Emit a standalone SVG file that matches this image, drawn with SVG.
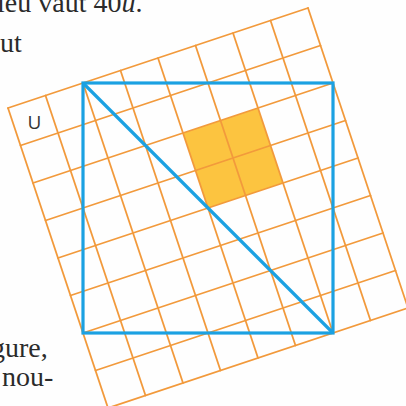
<svg xmlns="http://www.w3.org/2000/svg" width="406" height="406" viewBox="0 0 406 406">
<style>
.grid line{stroke:#F29A3C;stroke-width:1.8;stroke-linecap:round}
.blue{stroke:#1BA1E2;stroke-width:3.2;fill:none;stroke-linejoin:miter}
.txt{font-family:"Liberation Serif","DejaVu Serif",serif;font-size:28px;fill:#2b2b2b}
</style>
<rect width="406" height="406" fill="#FEFEFE"/>
<g id="text">
<text class="txt" x="-3" y="12">ieu vaut 40<tspan font-style="italic">u</tspan>.</text>
<text class="txt" x="0" y="52">ut</text>
<text class="txt" x="-9" y="357">gure,</text>
<text class="txt" x="2" y="386">nou-</text>
</g>
<g id="shaded">
<polygon points="183,133 258,108 283,183 208,208" fill="#FCC440"/>
</g>
<g id="grid" class="grid">
<line x1="8" y1="108" x2="308" y2="8"/>
<line x1="20.5" y1="145.5" x2="320.5" y2="45.5"/>
<line x1="33" y1="183" x2="333" y2="83"/>
<line x1="45.5" y1="220.5" x2="345.5" y2="120.5"/>
<line x1="58" y1="258" x2="358" y2="158"/>
<line x1="70.5" y1="295.5" x2="370.5" y2="195.5"/>
<line x1="83" y1="333" x2="383" y2="233"/>
<line x1="95.5" y1="370.5" x2="395.5" y2="270.5"/>
<line x1="108" y1="408" x2="408" y2="308"/>
<line x1="8" y1="108" x2="108" y2="408"/>
<line x1="45.5" y1="95.5" x2="145.5" y2="395.5"/>
<line x1="83" y1="83" x2="183" y2="383"/>
<line x1="120.5" y1="70.5" x2="220.5" y2="370.5"/>
<line x1="158" y1="58" x2="258" y2="358"/>
<line x1="195.5" y1="45.5" x2="295.5" y2="345.5"/>
<line x1="233" y1="33" x2="333" y2="333"/>
<line x1="270.5" y1="20.5" x2="370.5" y2="320.5"/>
<line x1="308" y1="8" x2="408" y2="308"/>
</g>
<g id="label-U">
<text x="34.5" y="128.5" text-anchor="middle" font-family="'Open Sans','DejaVu Sans',sans-serif" font-size="19" fill="#333">U</text>
</g>
<g id="connectors">
<rect class="blue" x="83" y="83" width="250" height="250"/>
<line class="blue" x1="83" y1="83" x2="333" y2="333"/>
</g>
</svg>
